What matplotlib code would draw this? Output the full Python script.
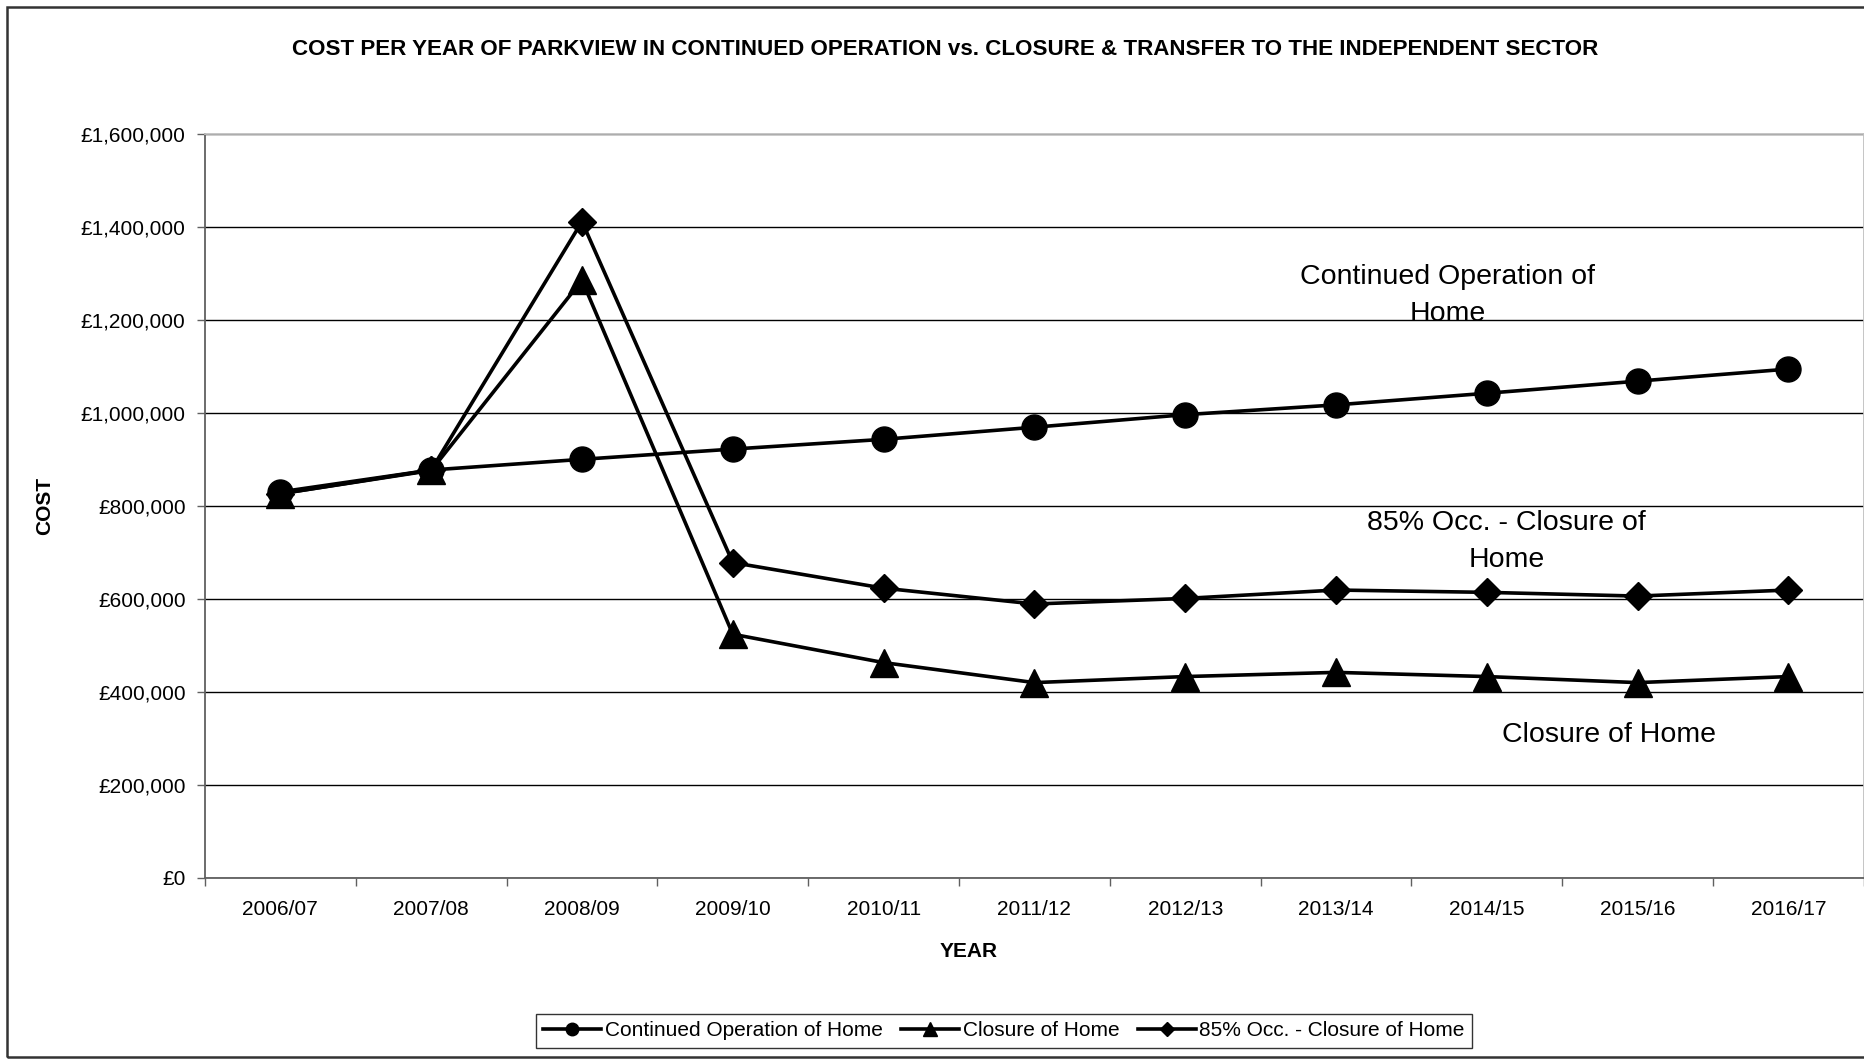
import matplotlib
matplotlib.use('Agg')
import matplotlib.pyplot as plt
from matplotlib.lines import Line2D
from matplotlib.patches import Rectangle
from matplotlib.ticker import FuncFormatter, FixedLocator
import numpy as np

plt.rcParams['font.family'] = ['Liberation Sans', 'DejaVu Sans']

# data (pounds)
years = ['2006/07', '2007/08', '2008/09', '2009/10', '2010/11', '2011/12',
         '2012/13', '2013/14', '2014/15', '2015/16', '2016/17']
continued = [830000, 877000, 900000, 922000, 943000, 969000,
             996000, 1017000, 1042000, 1068000, 1094000]
closure = [826000, 876000, 1285000, 524000, 463000, 420000,
           433000, 442000, 433000, 420000, 433000]
occ85 = [826000, 877000, 1411000, 678000, 623000, 589000,
         601000, 619000, 614000, 606000, 619000]

series_names = ['Continued Operation of Home', 'Closure of Home',
                '85% Occ. - Closure of Home']

fig = plt.figure(figsize=(18.65, 10.60), dpi=100)
ax = fig.add_axes([0.1099, 0.1717, 0.8895, 0.7022])

x = np.arange(len(years))
ax.plot(x, continued, color='black', lw=2.6, marker='o', ms=18, zorder=3)
ax.plot(x, closure, color='black', lw=2.6, marker='^', ms=20, zorder=4)
ax.plot(x, occ85, color='black', lw=2.6, marker='D', ms=14, zorder=5)

ax.set_xlim(-0.5, len(years) - 0.5)
ax.set_ylim(0, 1600000)
ax.set_yticks(np.arange(0, 1600001, 200000))
ax.yaxis.set_major_formatter(FuncFormatter(lambda v, p: '£{:,.0f}'.format(v)))
ax.set_xticks(x)
ax.set_xticklabels(years)
ax.xaxis.set_minor_locator(FixedLocator(np.arange(-0.5, len(years), 1.0)))

ax.tick_params(axis='y', direction='out', length=6, width=1, color='#606060',
               labelsize=15, pad=8)
ax.tick_params(axis='x', which='major', length=0, labelsize=15, pad=16)
ax.tick_params(axis='x', which='minor', direction='out', length=6, width=1,
               color='#606060')

ax.grid(axis='y', color='black', lw=1.0, zorder=1)
ax.set_axisbelow(True)
for side in ['left', 'bottom']:
    ax.spines[side].set_color('#606060')
    ax.spines[side].set_linewidth(1.3)
for side in ['top', 'right']:
    ax.spines[side].set_color('#c0c0c0')
    ax.spines[side].set_linewidth(1.3)

# series labels inside the plot
ax.text(7.74, 1253000, 'Continued Operation of\nHome', fontsize=20.5,
        ha='center', va='center', linespacing=1.55)
ax.text(8.13, 723000, '85% Occ. - Closure of\nHome', fontsize=20.5,
        ha='center', va='center', linespacing=1.55)
ax.text(8.81, 307000, 'Closure of Home', fontsize=20.5,
        ha='center', va='center')

# titles
fig.text(0.507, 0.953, 'COST PER YEAR OF PARKVIEW IN CONTINUED OPERATION vs. '
         'CLOSURE & TRANSFER TO THE INDEPENDENT SECTOR',
         fontsize=16.1, fontweight='bold', ha='center', va='center')
fig.text(0.024, 0.523, 'COST', fontsize=15, fontweight='bold', rotation=90,
         ha='center', va='center')
fig.text(0.5196, 0.1028, 'YEAR', fontsize=15, fontweight='bold',
         ha='center', va='center')

# legend
handles = [Line2D([], [], color='black', lw=2.6, marker='o', ms=9),
           Line2D([], [], color='black', lw=2.6, marker='^', ms=10),
           Line2D([], [], color='black', lw=2.6, marker='D', ms=7)]
leg = fig.legend(handles, series_names, loc='center', ncol=3,
                 bbox_to_anchor=(0.5383, 0.0274), fontsize=15,
                 frameon=True, fancybox=False, edgecolor='black',
                 handlelength=2.8, handletextpad=0.15, columnspacing=0.9,
                 borderpad=0.35, borderaxespad=0)
leg.get_frame().set_linewidth(1.0)

# outer chart border
fig.patches.append(Rectangle((0.0038, 0.0028), 1.1, 0.9906, transform=fig.transFigure,
                             fill=False, edgecolor='#333333', lw=1.8, clip_on=False))

fig.savefig('out.png', dpi=100)
